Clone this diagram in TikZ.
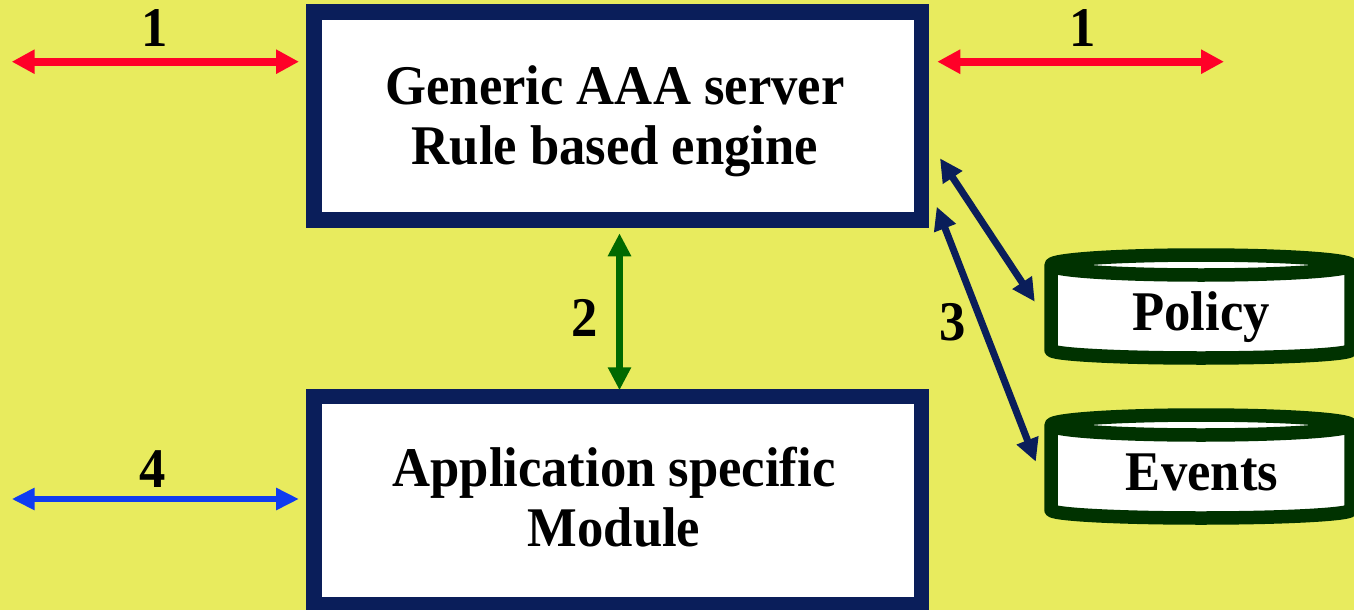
\documentclass[tikz,border=0pt]{standalone}
\usepackage{fontspec}
\setmainfont{Liberation Serif}[FakeStretch=0.94]
\usetikzlibrary{arrows.meta}

\definecolor{bgyellow}{RGB}{232,235,94}
\definecolor{navy}{RGB}{10,30,90}
\definecolor{arrred}{RGB}{255,0,40}
\definecolor{arrgreen}{RGB}{0,105,0}
\definecolor{arrblue}{RGB}{15,60,240}
\definecolor{dbgreen}{RGB}{0,50,0}

\tikzset{
  boxframe/.style={draw=navy, line width=15.5pt, fill=white,
    minimum width=607.5pt, minimum height=208pt, inner sep=0pt},
  lbl/.style={font=\fontsize{56}{60}\selectfont\bfseries, inner sep=0pt, anchor=base},
  dbline/.style={draw=dbgreen, line width=13.5pt, line join=round},
  dbbody/.style={draw=none, minimum width=300pt, inner sep=0pt},
  redarr/.style={draw=arrred, line width=8pt, {Triangle[length=23pt,width=23pt]}-{Triangle[length=23pt,width=23pt]}},
  bluearr/.style={draw=arrblue, line width=6.5pt, {Triangle[length=23pt,width=21pt]}-{Triangle[length=23pt,width=21pt]}},
  greenarr/.style={draw=arrgreen, line width=7pt, {Triangle[length=23pt,width=22pt]}-{Triangle[length=23pt,width=22pt]}},
  navyarr/.style={draw=navy, line width=7pt, {Triangle[length=23pt,width=22pt]}-{Triangle[length=23pt,width=22pt]}},
}

% database drawn as a cylinder: centre x, top rim y, bottom rim y
\newcommand{\drawdb}[3]{%
  \draw[dbline, fill=white]
    (#1-150,#2) -- (#1-150,#3)
    arc[start angle=180, end angle=0, x radius=150, y radius=8]
    -- (#1+150,#2)
    arc[start angle=0, end angle=-180, x radius=150, y radius=10]
    -- cycle;
  \draw[dbline] (#1-150,#2) arc[start angle=180, end angle=0, x radius=150, y radius=10];
}

\begin{document}
\begin{tikzpicture}[x=1pt, y=-1pt]
  \useasboundingbox (0,0) rectangle (1354,610);
  \fill[bgyellow] (0,0) rectangle (1354,610);

  % the two main blocks
  \node[boxframe] (srv) at (617.75,116) {};
  \node[boxframe] (app) at (617.75,500.5) {};
  \node[lbl] (srvl1) at (615,104) {Generic AAA server};
  \node[lbl] (srvl2) at (615,164) {Rule based engine};
  \node[lbl] (appl1) at (614,486) {Application specific};
  \node[lbl] (appl2) at (614,546) {Module};

  % databases
  \drawdb{1201}{265}{350}
  \drawdb{1201}{425}{510}
  \node[dbbody, minimum height=85pt] (pol) at (1201,307.5) {};
  \node[dbbody, minimum height=85pt] (evt) at (1201,467.5) {};
  \node[lbl] (poltxt) at (1201,330) {Policy};
  \node[lbl] (evttxt) at (1202,490) {Events};

  % free ends of the outer interfaces
  \coordinate (in1) at (11.7,61.7);
  \coordinate (out1) at (1224,61.7);
  \coordinate (in4) at (11.7,499);

  % interface 1 (both sides)
  \draw[redarr, shorten >=7.25pt] (in1) -- (in1 -| srv.west);
  \draw[redarr, shorten <=8pt] (srv.east |- out1) -- (out1);
  \node[lbl] (n1a) at (155,46.7) {1};
  \node[lbl] (n1b) at (1082.7,46.7) {1};

  % interface 2 between engine and module
  \draw[greenarr, shorten <=5.5pt, shorten >=-1.5pt]
    ([xshift=1.75pt]srv.south) -- ([xshift=1.75pt]app.north);
  \node[lbl] (n2) at (585,336.7) {2};

  % interface 3 to the databases
  \draw[navyarr] ([shift={(10.75,42.3)}]srv.east) -- ([shift={(-16,-5.8)}]pol.west);
  \draw[navyarr] ([shift={(7.45,90.7)}]srv.east) -- ([shift={(-15,-5.8)}]evt.west);
  \node[lbl] (n3) at (953,340) {3};

  % interface 4 to the module
  \draw[bluearr, shorten >=7.25pt] (in4) -- (in4 -| app.west);
  \node[lbl] (n4) at (153,487) {4};
\end{tikzpicture}
\end{document}
